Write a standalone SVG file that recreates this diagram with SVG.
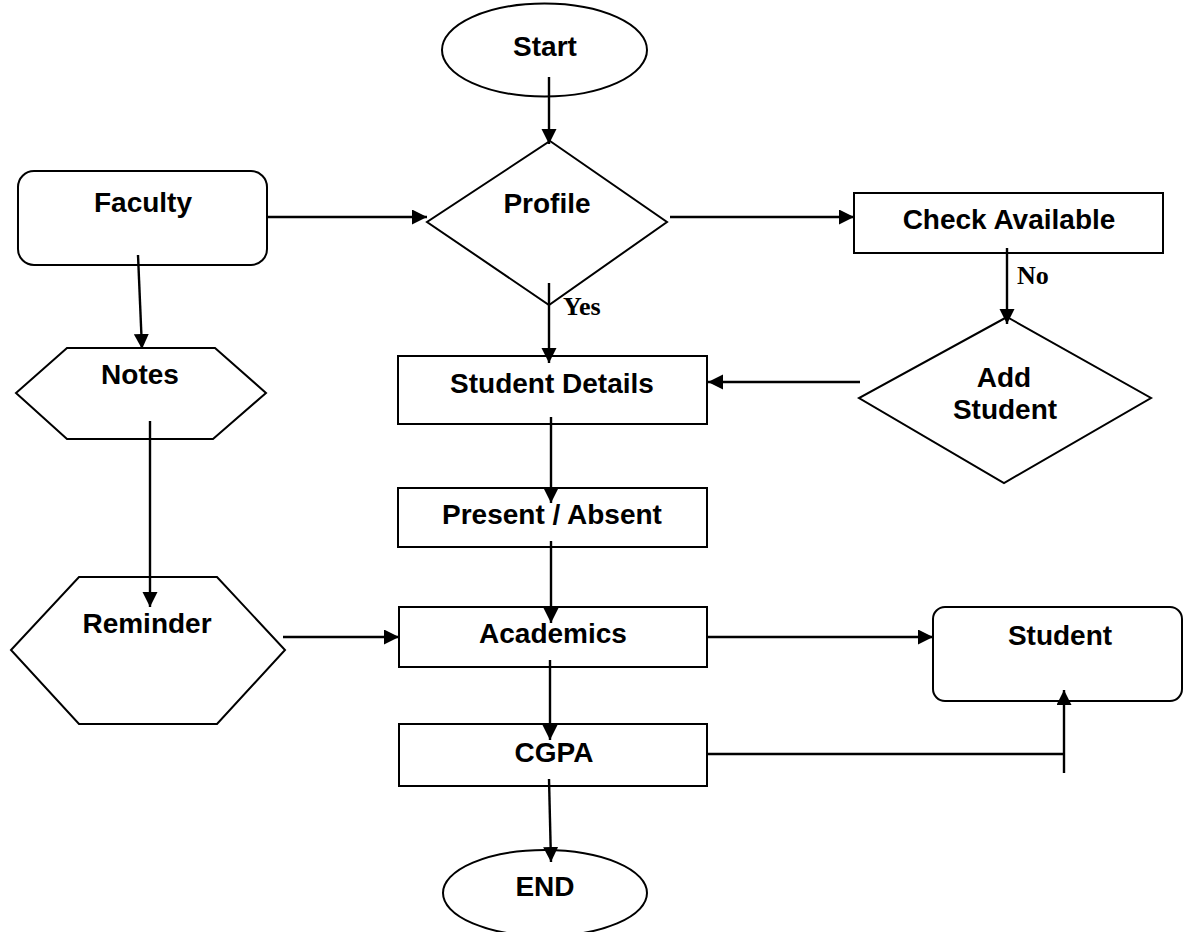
<svg xmlns="http://www.w3.org/2000/svg" width="1183" height="932" viewBox="0 0 1183 932">
<defs>
<style>
.n{fill:#fff;stroke:#000;stroke-width:2}
.t{font-family:"Liberation Sans",Arial,sans-serif;font-weight:bold;font-size:28px;fill:#000;text-anchor:middle}
.l{font-family:"Liberation Serif","Times New Roman",serif;font-weight:bold;font-size:26px;fill:#000}
.c{fill:none;stroke:#000;stroke-width:2.4}
.a{marker-end:url(#ah)}
</style>
<marker id="ah" markerUnits="userSpaceOnUse" markerWidth="16" markerHeight="16" refX="15" refY="7.5" orient="auto">
<path d="M0,0 L15,7.5 L0,15 z" fill="#000"/>
</marker>
</defs>
<rect width="1183" height="932" fill="#fff"/>
<g id="start"><ellipse class="n" cx="544.5" cy="50" rx="102.5" ry="46.5"/><text class="t" x="545" y="56">Start</text></g>
<g id="profile"><polygon class="n" points="550,141 667,222 549,305 427,222"/><text class="t" x="547" y="213">Profile</text></g>
<g id="faculty"><rect class="n" x="18" y="171" width="249" height="94" rx="16"/><text class="t" x="143" y="212">Faculty</text></g>
<g id="check"><rect class="n" x="854" y="193" width="309" height="60"/><text class="t" x="1009" y="229">Check Available</text></g>
<g id="notes"><polygon class="n" points="67,348 215,348 266,393 213,439 67,439 16,393"/><text class="t" x="140" y="384">Notes</text></g>
<g id="addstudent"><polygon class="n" points="1007,317 1151,398 1004,483 859,398"/><text class="t" x="1004" y="387">Add</text><text class="t" x="1005" y="419">Student</text></g>
<g id="details"><rect class="n" x="398" y="356" width="309" height="68"/><text class="t" x="552" y="393">Student Details</text></g>
<g id="present"><rect class="n" x="398" y="488" width="309" height="59"/><text class="t" x="552" y="524">Present / Absent</text></g>
<g id="reminder"><polygon class="n" points="79,577 217,577 285,650 217,724 79,724 11,650"/><text class="t" x="147" y="633">Reminder</text></g>
<g id="academics"><rect class="n" x="399" y="607" width="308" height="60"/><text class="t" x="553" y="643">Academics</text></g>
<g id="student"><rect class="n" x="933" y="607" width="249" height="94" rx="12"/><text class="t" x="1060" y="645">Student</text></g>
<g id="cgpa"><rect class="n" x="399" y="724" width="308" height="62"/><text class="t" x="554" y="762">CGPA</text></g>
<g id="end"><ellipse class="n" cx="545" cy="893" rx="102" ry="43"/><text class="t" x="545" y="896">END</text></g>
<g id="connectors">
<line class="c a" x1="549" y1="77" x2="549" y2="144"/>
<line class="c a" x1="267" y1="217" x2="427" y2="217"/>
<line class="c a" x1="670" y1="217" x2="854" y2="217"/>
<line class="c a" x1="1007" y1="248" x2="1007" y2="324"/>
<line class="c a" x1="138" y1="255" x2="142" y2="349"/>
<line class="c a" x1="549" y1="283" x2="549" y2="363"/>
<line class="c a" x1="860" y1="382" x2="708" y2="382"/>
<line class="c a" x1="551" y1="417" x2="551" y2="503"/>
<line class="c a" x1="150" y1="421" x2="150" y2="607"/>
<line class="c a" x1="551" y1="541" x2="551" y2="623"/>
<line class="c a" x1="283" y1="637" x2="399" y2="637"/>
<line class="c a" x1="707" y1="637" x2="933" y2="637"/>
<line class="c a" x1="550" y1="660" x2="550" y2="740"/>
<line class="c" x1="707" y1="754" x2="1064" y2="754"/>
<line class="c a" x1="1064" y1="773" x2="1064" y2="690"/>
<line class="c a" x1="549" y1="779" x2="551" y2="862"/>
<text class="l" x="563" y="315">Yes</text>
<text class="l" x="1017" y="284">No</text>
</g>
</svg>
